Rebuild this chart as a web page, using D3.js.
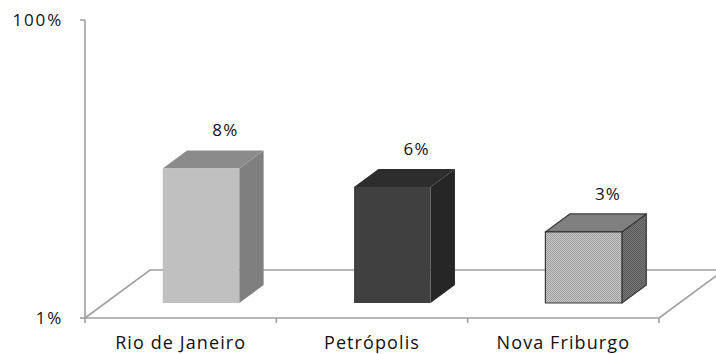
<!DOCTYPE html>
<html>
<head>
<meta charset="utf-8">
<script src="https://cdn.jsdelivr.net/npm/d3@7"></script>
<style>
  html, body { margin: 0; padding: 0; background: #fff; }
  svg { display: block; }
  text { font-family: "Open Sans", "Noto Sans", sans-serif; fill: #111; }
</style>
</head>
<body>
<svg id="chart" width="716" height="354"></svg>
<script>
// Share of cases by municipality (log-scaled value axis)
const categories = ["Rio de Janeiro", "Petrópolis", "Nova Friburgo"];
const values = [8, 6, 3];
const valueLabels = ["8%", "6%", "3%"];
const tickValues = [1, 100];
const tickLabels = ["1%", "100%"];

const svg = d3.select("#chart");

// Front plane of the floor
const left = 85, right = 659, baseY = 318, topY = 20;
// Oblique depth vector for the 3D floor
const depth = { dx: 65, dy: -48 };
// Bars occupy the middle slice of the depth
const zFront = 0.3125, zBack = 0.6875;

const x = d3.scaleBand().domain(categories).range([left, right]).padding(0);
const y = d3.scaleLog().domain([1, 100]).range([baseY, topY]);
const barW = x.bandwidth() * 0.4;

const proj = (px, py, z) => [px + z * depth.dx, py + z * depth.dy];

const defs = svg.append("defs");
// Dithered fills for the patterned bar
function dither(id, a, b) {
  const p = defs.append("pattern").attr("id", id)
    .attr("patternUnits", "userSpaceOnUse").attr("width", 2).attr("height", 2);
  p.append("rect").attr("width", 2).attr("height", 2).attr("fill", a);
  p.append("rect").attr("width", 1).attr("height", 1).attr("fill", b);
  p.append("rect").attr("x", 1).attr("y", 1).attr("width", 1).attr("height", 1).attr("fill", b);
}
dither("ditherFront", "#c9c9c9", "#9c9c9c");
dither("ditherSide", "#7a7a7a", "#575757");

const styles = [
  { front: "#c0c0c0", top: "#8b8b8b", side: "#7f7f7f", stroke: "none" },
  { front: "#404040", top: "#2d2d2d", side: "#262626", stroke: "none" },
  { front: "url(#ditherFront)", top: "#808080", side: "url(#ditherSide)", stroke: "#3a3a3a" }
];

const axisColor = "#a0a0a0";
const g = svg.append("g");

// Floor outline
const floorBackLeft = proj(left, baseY, 1);
const floorBackRight = proj(right, baseY, 1);
g.append("path")
  .attr("d", `M${left},${baseY}L${floorBackLeft}L${floorBackRight}M${right},${baseY}L${floorBackRight}`)
  .attr("fill", "none").attr("stroke", axisColor).attr("stroke-width", 1.6);

// Category axis with boundary ticks
const bounds = categories.map(c => x(c)).concat([right]);
g.append("line").attr("x1", left).attr("x2", right).attr("y1", baseY).attr("y2", baseY)
  .attr("stroke", axisColor).attr("stroke-width", 1.6);
g.selectAll(".xtick").data(bounds).join("line")
  .attr("x1", d => d).attr("x2", d => d).attr("y1", baseY).attr("y2", baseY + 5)
  .attr("stroke", axisColor).attr("stroke-width", 1.6);

// Value axis
g.append("line").attr("x1", left).attr("x2", left).attr("y1", y(100)).attr("y2", y(1))
  .attr("stroke", axisColor).attr("stroke-width", 1.6);
g.selectAll(".ytick").data(tickValues).join("line")
  .attr("x1", left - 5).attr("x2", left).attr("y1", d => y(d)).attr("y2", d => y(d))
  .attr("stroke", axisColor).attr("stroke-width", 1.6);
g.selectAll(".ylabel").data(tickValues).join("text")
  .attr("x", 63).attr("y", d => y(d) + 6)
  .attr("text-anchor", "end").attr("font-size", 17).attr("letter-spacing", 1.8)
  .text((d, i) => tickLabels[i]);

// Bars
const bars = g.selectAll(".bar").data(categories).join("g");
bars.each(function (c, i) {
  const sel = d3.select(this);
  const st = styles[i];
  const cx = x(c) + x.bandwidth() / 2;
  const x0 = cx - barW / 2, x1 = cx + barW / 2;
  const y0 = y(1), y1 = y(values[i]);
  const poly = pts => "M" + pts.map(p => p.join(",")).join("L") + "Z";
  const front = [proj(x0, y1, zFront), proj(x1, y1, zFront), proj(x1, y0, zFront), proj(x0, y0, zFront)];
  const top = [proj(x0, y1, zFront), proj(x0, y1, zBack), proj(x1, y1, zBack), proj(x1, y1, zFront)];
  const side = [proj(x1, y1, zFront), proj(x1, y1, zBack), proj(x1, y0, zBack), proj(x1, y0, zFront)];
  const sw = st.stroke === "none" ? 0 : 1.2;
  sel.append("path").attr("d", poly(side)).attr("fill", st.side).attr("stroke", st.stroke).attr("stroke-width", sw).attr("stroke-linejoin", "round");
  sel.append("path").attr("d", poly(top)).attr("fill", st.top).attr("stroke", st.stroke).attr("stroke-width", sw).attr("stroke-linejoin", "round");
  sel.append("path").attr("d", poly(front)).attr("fill", st.front).attr("stroke", st.stroke).attr("stroke-width", sw).attr("stroke-linejoin", "round");

  // Value label above the back of the bar
  const lp = proj(cx, y1, zBack);
  sel.append("text").attr("x", lp[0]).attr("y", lp[1] - 14)
    .attr("text-anchor", "middle").attr("font-size", 17).attr("letter-spacing", 1.2)
    .text(valueLabels[i]);
});

// Category labels
g.selectAll(".xlabel").data(categories).join("text")
  .attr("x", d => x(d) + x.bandwidth() / 2).attr("y", 349)
  .attr("text-anchor", "middle").attr("font-size", 18).attr("letter-spacing", 1.1)
  .text(d => d);
</script>
</body>
</html>
